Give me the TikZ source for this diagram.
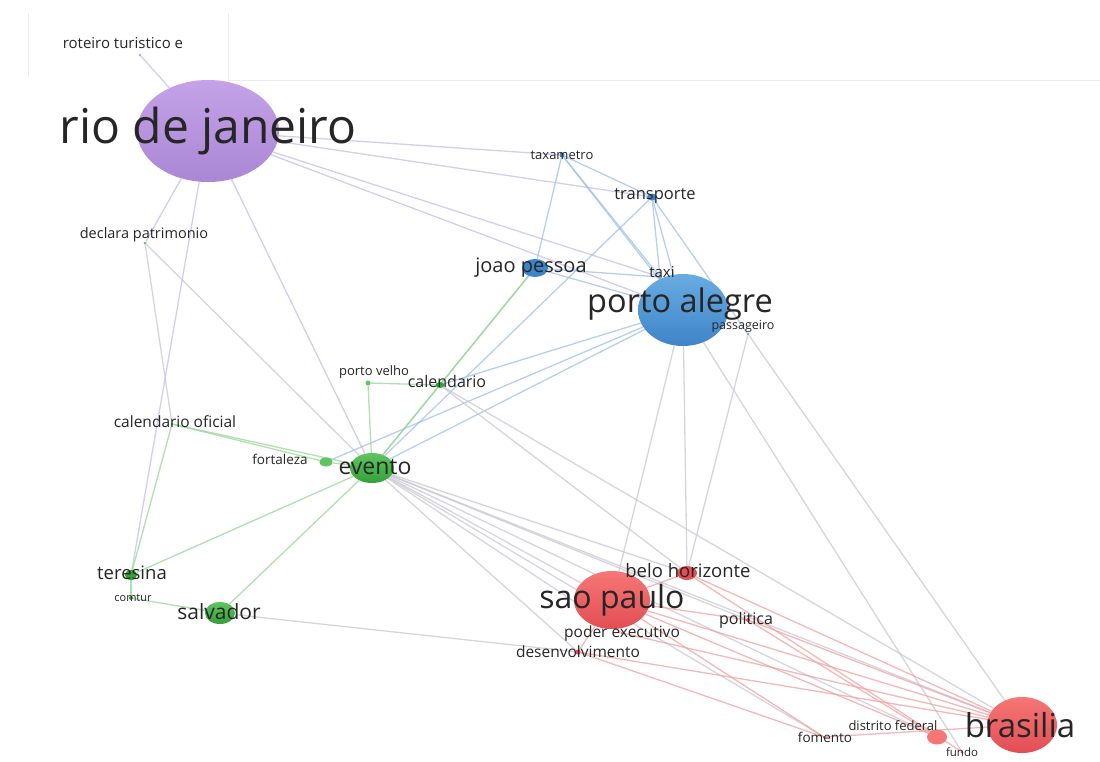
\documentclass[tikz,border=0pt]{standalone}
\usepackage{fontspec}
\setmainfont{Open Sans}
\usepackage{tikz}
\usetikzlibrary{shapes.geometric, backgrounds}

\definecolor{ClPurple}{RGB}{196, 162, 232}
\definecolor{ClPurpleDk}{RGB}{170, 135, 212}
\definecolor{ClBlue}{RGB}{105, 172, 226}
\definecolor{ClBlueDk}{RGB}{62, 132, 200}
\definecolor{ClGreen}{RGB}{96, 196, 96}
\definecolor{ClGreenDk}{RGB}{52, 160, 56}
\definecolor{ClRed}{RGB}{246, 118, 118}
\definecolor{ClRedDk}{RGB}{226, 78, 84}
\definecolor{EdPurple}{RGB}{196, 190, 232}
\definecolor{EdBlue}{RGB}{160, 192, 232}
\definecolor{EdGreen}{RGB}{150, 214, 150}
\definecolor{EdRed}{RGB}{242, 160, 160}
\definecolor{EdGray}{RGB}{200, 200, 210}
\definecolor{LblGray}{RGB}{38, 38, 38}

\begin{document}
\begin{tikzpicture}[x=1pt, y=-1pt,
        bubble/.style={ellipse, inner sep=0, draw=none},
        dot/.style={circle, inner sep=0, minimum size=4pt, fill=#1},
        lbl/.style={font=\fontsize{#1}{#1}\selectfont, text=LblGray, inner sep=0},
        edge/.style={line width=1.3pt, draw=#1, opacity=0.75}
    ]
        \useasboundingbox (0,0) rectangle (1100,761);

        % Cluster rio de janeiro
        \node[bubble, minimum width=142pt, minimum height=102pt, top color=ClPurple, bottom color=ClPurpleDk] (rio) at (208,131) {};
        \node[dot=ClPurple, minimum size=3pt] (roteiro) at (140,55) {};

        % Cluster porto alegre
        \node[bubble, minimum width=90pt, minimum height=72pt, top color=ClBlue, bottom color=ClBlueDk] (portoalegre) at (683,310) {};
        \node[bubble, minimum width=26pt, minimum height=18pt, fill=ClBlueDk] (joao) at (535,268) {};
        \node[dot=ClBlueDk, minimum size=5pt] (taxametro) at (562,155) {};
        \node[bubble, minimum width=10pt, minimum height=7pt, fill=ClBlueDk] (transporte) at (652,197) {};
        \node[dot=ClBlue] (taxi) at (660,277) {};
        \node[dot=ClBlue, minimum size=3pt] (passageiro) at (748,334) {};

        % Cluster evento
        \node[bubble, minimum width=44pt, minimum height=30pt, top color=ClGreen, bottom color=ClGreenDk] (evento) at (372,468) {};
        \node[dot=ClGreen, minimum size=3pt] (declara) at (145,243) {};
        \node[dot=ClGreen, minimum size=5pt] (portovelho) at (368,383) {};
        \node[bubble, minimum width=9pt, minimum height=6pt, fill=ClGreenDk] (calendario) at (440,385) {};
        \node[dot=ClGreen, minimum size=3pt] (caloficial) at (172,424) {};
        \node[bubble, minimum width=13pt, minimum height=9pt, fill=ClGreen] (fortaleza) at (326,462) {};
        \node[bubble, minimum width=12pt, minimum height=10pt, fill=ClGreenDk] (teresina) at (131,575) {};
        \node[dot=ClGreenDk, minimum size=4pt] (comtur) at (131,598) {};
        \node[bubble, minimum width=30pt, minimum height=22pt, top color=ClGreen, bottom color=ClGreenDk] (salvador) at (220,613) {};

        % Cluster sao paulo / brasilia
        \node[bubble, minimum width=76pt, minimum height=58pt, top color=ClRed, bottom color=ClRedDk] (saopaulo) at (612,600) {};
        \node[bubble, minimum width=20pt, minimum height=14pt, fill=ClRedDk] (belohoriz) at (687,573) {};
        \node[dot=ClRed, minimum size=3pt] (poderexec) at (622,633) {};
        \node[dot=ClRedDk, minimum size=4pt] (politica) at (748,620) {};
        \node[dot=ClRedDk, minimum size=5pt] (desenv) at (578,652) {};
        \node[bubble, minimum width=70pt, minimum height=56pt, top color=ClRed, bottom color=ClRedDk] (brasilia) at (1022,725) {};
        \node[bubble, minimum width=20pt, minimum height=15pt, fill=ClRed] (distrito) at (937,737) {};
        \node[dot=ClRedDk, minimum size=3pt] (fomento) at (824,737) {};
        \node[dot=ClRedDk, minimum size=3pt] (fundo) at (962,752) {};

        % Labels
        \node[lbl=48] (rio-t) at (208,131) {rio de janeiro};
        \node[lbl=15] (roteiro-t) at (123,43) {roteiro turistico e};
        \node[lbl=14.5] (declara-t) at (144,235) {declara patrimonio};
        \node[lbl=13] (taxametro-t) at (562,155) {taxametro};
        \node[lbl=16.5] (transporte-t) at (655,196) {transporte};
        \node[lbl=20] (joao-t) at (531,268) {joao pessoa};
        \node[lbl=15] (taxi-t) at (662,272) {taxi};
        \node[lbl=12.5] (passageiro-t) at (743,326) {passageiro};
        \node[lbl=32.5] (portoalegre-t) at (680,304) {porto alegre};
        \node[lbl=13] (portovelho-t) at (374,372) {porto velho};
        \node[lbl=16] (calendario-t) at (447,381) {calendario};
        \node[lbl=15.5] (caloficial-t) at (175,422) {calendario oficial};
        \node[lbl=13.5] (fortaleza-t) at (280,459) {fortaleza};
        \node[lbl=23] (evento-t) at (375,467) {evento};
        \node[lbl=18.5] (teresina-t) at (132,573) {teresina};
        \node[lbl=11] (comtur-t) at (133,598) {comtur};
        \node[lbl=21] (salvador-t) at (219,612) {salvador};
        \node[lbl=32] (saopaulo-t) at (612,600) {sao paulo};
        \node[lbl=18.5] (belohoriz-t) at (688,571) {belo horizonte};
        \node[lbl=15.5] (poderexec-t) at (622,633) {poder executivo};
        \node[lbl=16] (politica-t) at (746,620) {politica};
        \node[lbl=15.5] (desenv-t) at (578,652) {desenvolvimento};
        \node[lbl=33] (brasilia-t) at (1020,725) {brasilia};
        \node[lbl=13] (distrito-t) at (893,726) {distrito federal};
        \node[lbl=13.5] (fomento-t) at (825,737) {fomento};
        \node[lbl=11.5] (fundo-t) at (962,752) {fundo};

        \begin{scope}[on background layer]
            \fill[white] (0,0) rectangle (1100,761);
            % faint frame of the pasted top strip
            \draw[black!7] (28,13) -- (28,76);
            \draw[black!7] (228,13) -- (228,80) -- (1100,80);

            % links of rio de janeiro
            \foreach \b in {roteiro, declara, teresina, evento, taxametro, transporte, taxi, portoalegre}
                \draw[edge=EdPurple] (rio) -- (\b);
            \draw[edge=EdGray] (declara) -- (caloficial);
            \draw[edge=EdGray] (declara) -- (evento);

            % links of porto alegre
            \foreach \b in {joao, transporte, taxi, portoalegre}
                \draw[edge=EdBlue] (taxametro) -- (\b);
            \foreach \b in {taxi, portoalegre, passageiro, evento}
                \draw[edge=EdBlue] (transporte) -- (\b);
            \draw[edge=EdBlue] (joao) -- (portoalegre);
            \draw[edge=EdBlue] (joao) -- (taxi);
            \foreach \b in {evento, calendario, fortaleza}
                \draw[edge=EdBlue] (portoalegre) -- (\b);
            \foreach \b in {saopaulo, belohoriz, fundo}
                \draw[edge=EdGray] (portoalegre) -- (\b);
            \draw[edge=EdGray] (passageiro) -- (belohoriz);
            \draw[edge=EdGray] (passageiro) -- (brasilia);

            % links of evento
            \foreach \b in {portovelho, calendario, joao, fortaleza, caloficial, teresina, salvador}
                \draw[edge=EdGreen] (evento) -- (\b);
            \foreach \b in {saopaulo, belohoriz, politica, brasilia, distrito, fomento, desenv, poderexec}
                \draw[edge=EdGray] (evento) -- (\b);
            \draw[edge=EdGreen] (portovelho) -- (calendario);
            \draw[edge=EdGreen] (calendario) -- (joao);
            \draw[edge=EdGray] (calendario) -- (belohoriz);
            \draw[edge=EdGray] (calendario) -- (brasilia);
            \draw[edge=EdGreen] (caloficial) -- (fortaleza);
            \draw[edge=EdGreen] (caloficial) -- (teresina);
            \draw[edge=EdGreen] (teresina) -- (comtur);
            \draw[edge=EdGreen] (comtur) -- (salvador);
            \draw[edge=EdGray] (salvador) -- (desenv);

            % links of sao paulo and brasilia
            \foreach \b in {belohoriz, politica, brasilia, distrito, fomento, desenv}
                \draw[edge=EdRed] (saopaulo) -- (\b);
            \draw[edge=EdRed] (desenv) -- (brasilia);
            \draw[edge=EdRed] (desenv) -- (fomento);
            \draw[edge=EdRed] (belohoriz) -- (brasilia);
            \draw[edge=EdRed] (belohoriz) -- (fundo);
            \draw[edge=EdRed] (politica) -- (brasilia);
            \draw[edge=EdRed] (politica) -- (distrito);
            \draw[edge=EdRed] (poderexec) -- (brasilia);
            \draw[edge=EdRed] (fomento) -- (brasilia);
        \end{scope}
    \end{tikzpicture}
\end{document}
